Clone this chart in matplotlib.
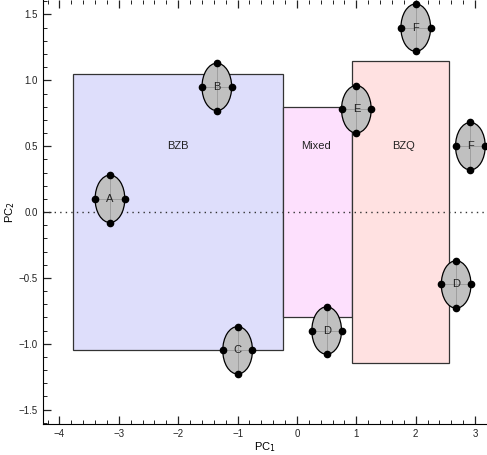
import matplotlib.pyplot as plt
import numpy as np
from matplotlib.patches import Rectangle, Ellipse
from matplotlib.ticker import MultipleLocator

plt.rcParams['font.family'] = ['Liberation Sans', 'DejaVu Sans']
plt.rcParams['axes.unicode_minus'] = True

# regions (x0, x1, y0, y1)
region_names = ['BZB', 'Mixed', 'BZQ']
region_x0 = [-3.78, -0.24, 0.93]
region_x1 = [-0.24, 0.93, 2.56]
region_y0 = [-1.05, -0.80, -1.15]
region_y1 = [1.05, 0.80, 1.15]
region_colors = ['#dedefb', '#fde0fd', '#ffe1e1']
region_label_y = [0.5, 0.5, 0.5]
region_label_x = [-2.0, 0.32, 1.8]

# sample points
pt_labels = ['A', 'B', 'C', 'D', 'E', 'F', 'F', 'D']
pt_x = [-3.15, -1.35, -1.0, 0.5, 1.0, 2.0, 2.92, 2.68]
pt_y = [0.10, 0.95, -1.05, -0.90, 0.78, 1.40, 0.50, -0.55]
half_w = 0.25
half_h = 0.18

fig = plt.figure(figsize=(4.87, 4.55), dpi=100)
ax = fig.add_axes([0.088, 0.068, 0.912, 0.932])
ax.set_xlim(-4.28, 3.2)
ax.set_ylim(-1.61, 1.61)

for name, x0, x1, y0, y1, c, lx, ly in zip(region_names, region_x0, region_x1,
                                           region_y0, region_y1, region_colors,
                                           region_label_x, region_label_y):
    ax.add_patch(Rectangle((x0, y0), x1 - x0, y1 - y0, facecolor=c,
                           edgecolor='#333333', linewidth=0.9, zorder=1))
    ax.text(lx, ly, name, ha='center', va='center', fontsize=8, color='#222222', zorder=2)

ax.axhline(0, color='#333333', linestyle=(0, (1, 3)), linewidth=1.0, zorder=2)

for lab, x, y in zip(pt_labels, pt_x, pt_y):
    ax.add_patch(Ellipse((x, y), 2 * half_w, 2 * half_h, facecolor='#c0c0c0',
                         edgecolor='black', linewidth=0.9, zorder=3))
    ax.plot([x - half_w, x + half_w], [y, y], color='#999999', linewidth=0.6, zorder=4)
    ax.plot([x, x], [y - half_h, y + half_h], color='#999999', linewidth=0.6, zorder=4)
    ax.plot([x - half_w, x + half_w, x, x], [y, y, y - half_h, y + half_h],
            'o', color='black', markersize=4.5, zorder=5, clip_on=False)
    ax.text(x, y, lab, ha='center', va='center', fontsize=8, color='#222222', zorder=6)

ax.spines['top'].set_visible(False)
ax.spines['right'].set_visible(False)
ax.xaxis.set_major_locator(MultipleLocator(1))
ax.xaxis.set_minor_locator(MultipleLocator(0.2))
ax.yaxis.set_major_locator(MultipleLocator(0.5))
ax.yaxis.set_minor_locator(MultipleLocator(0.1))
ax.tick_params(which='both', direction='in', top=True, labelsize=7, colors='#222222')
ax.tick_params(which='major', length=6, width=0.9)
ax.tick_params(which='minor', length=3, width=0.7)
ax.yaxis.set_major_formatter(plt.FuncFormatter(lambda v, p: f'{v:.1f}'.replace('-', '\u2212')))

ax.set_xlabel('PC$_1$', fontsize=8, labelpad=1)
ax.set_ylabel('PC$_2$', fontsize=8, labelpad=1)

fig.savefig('out.png', dpi=100)
